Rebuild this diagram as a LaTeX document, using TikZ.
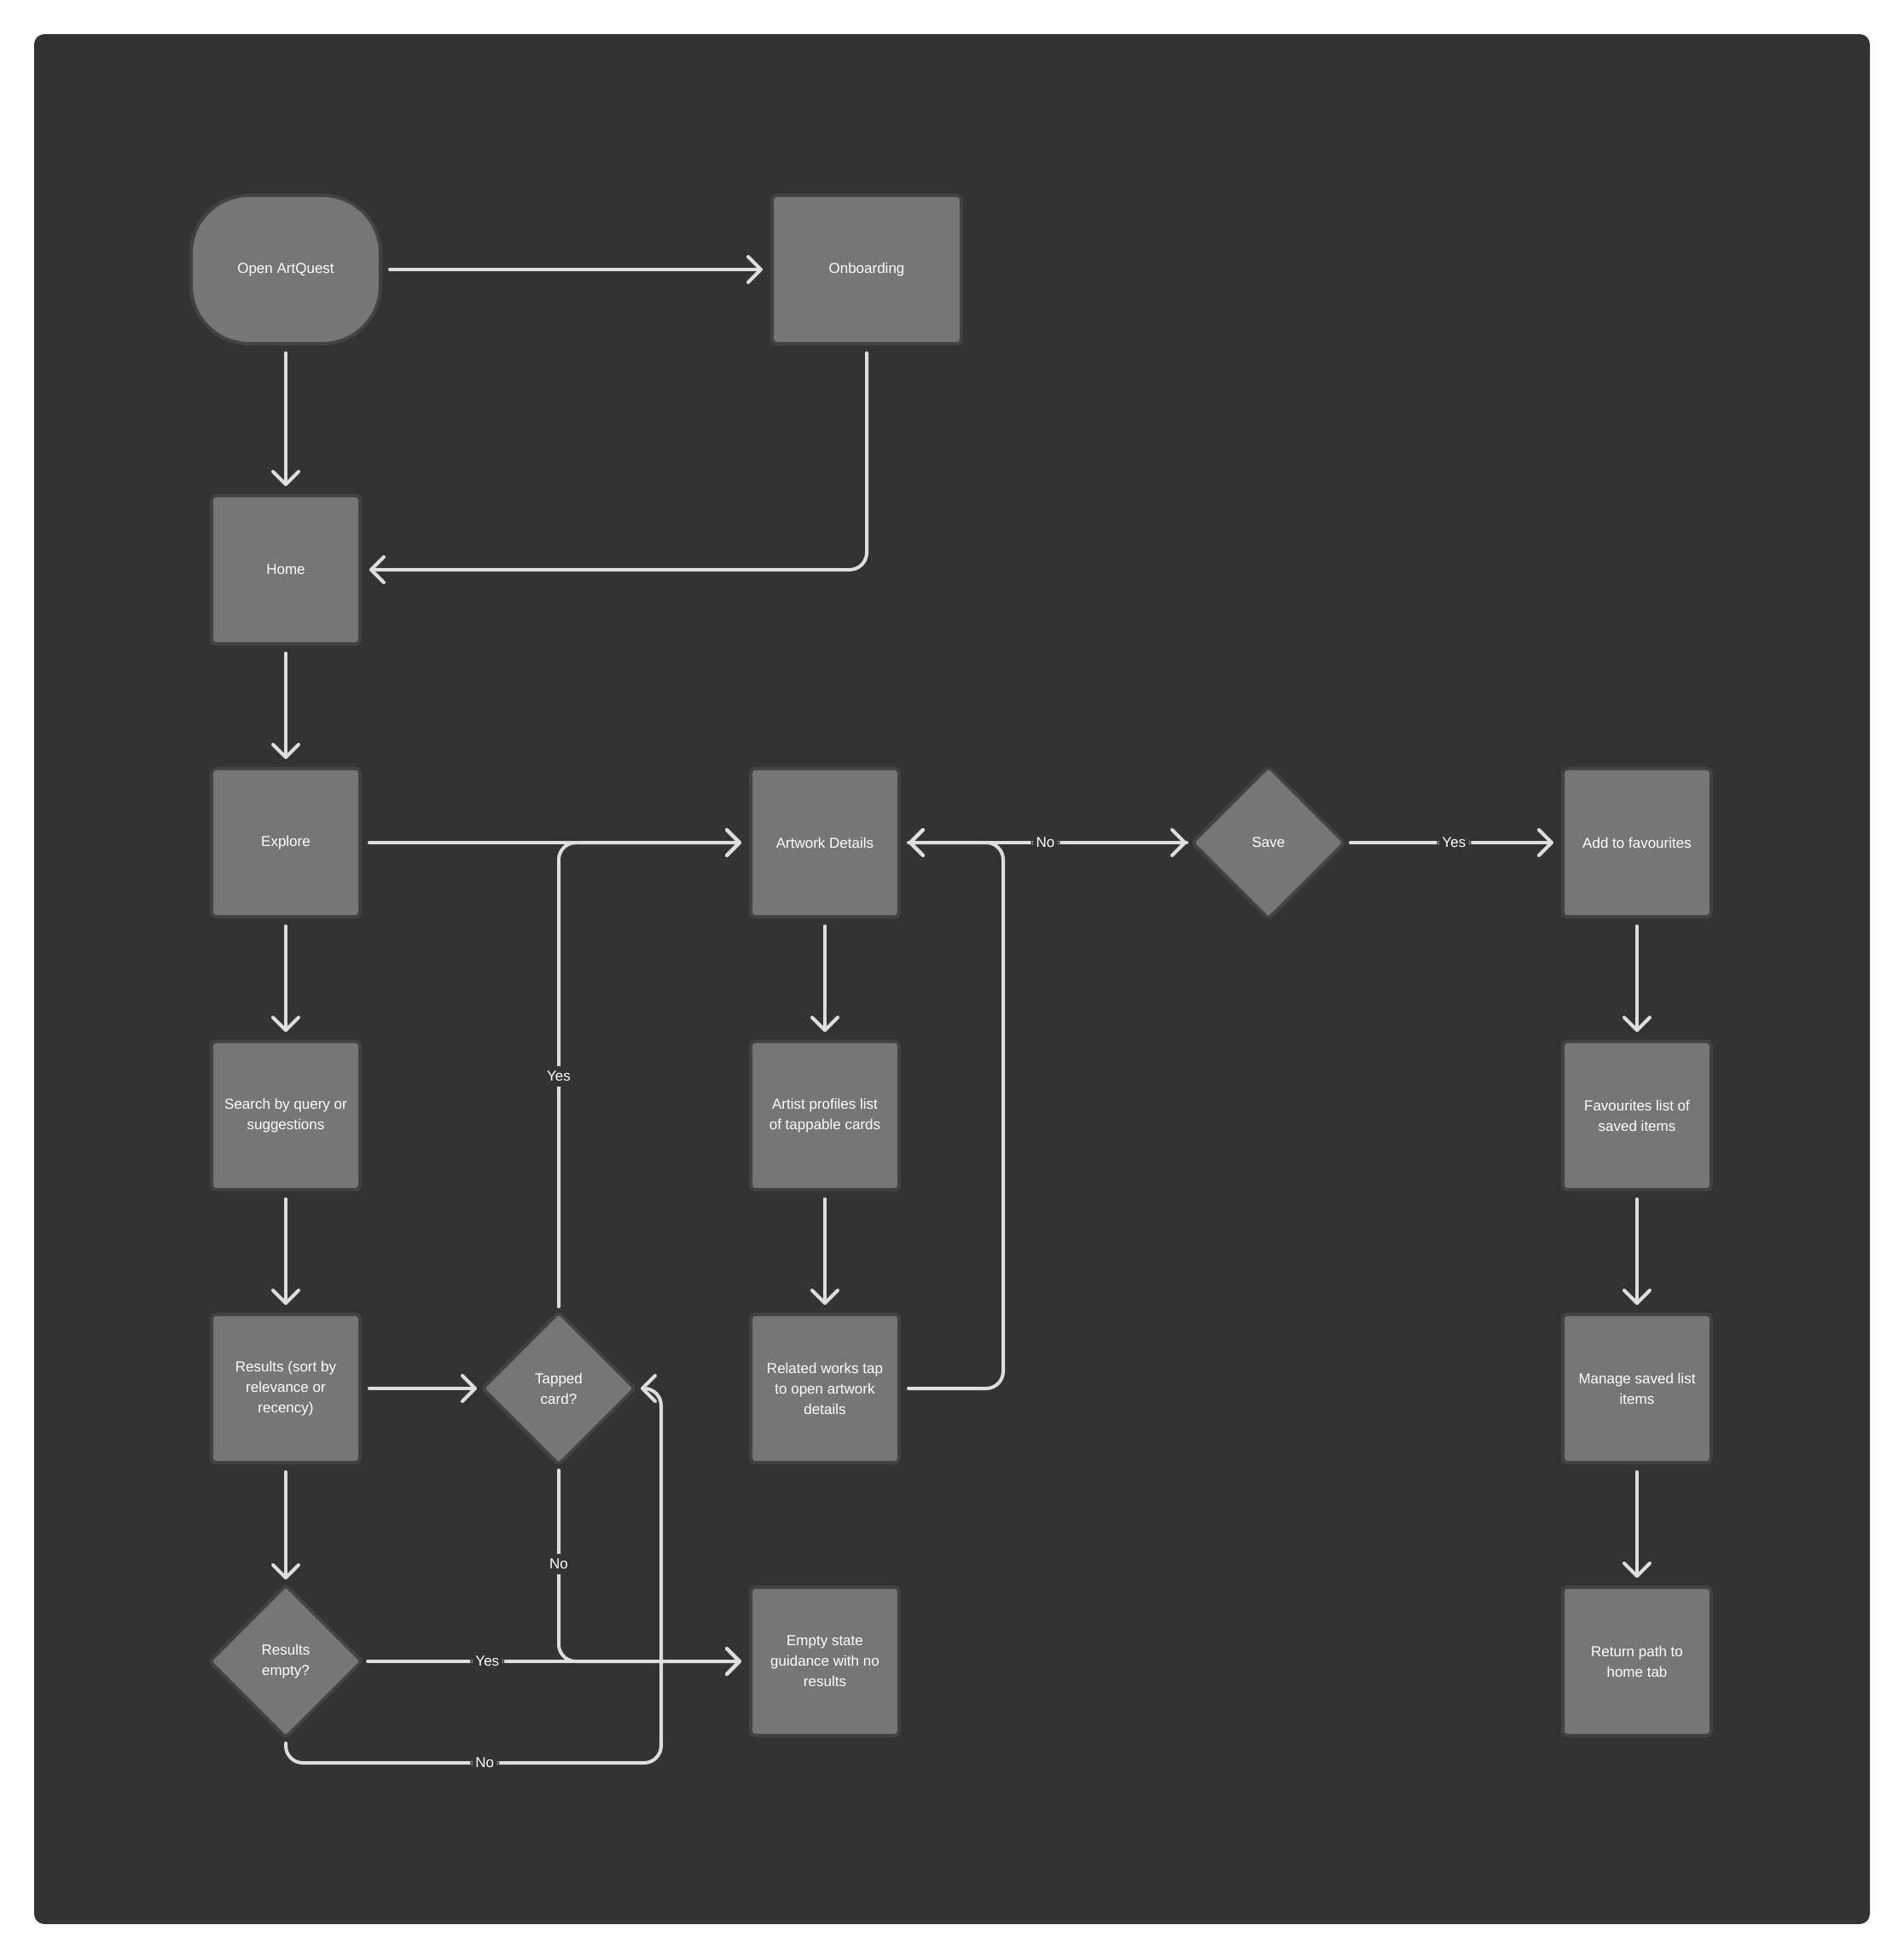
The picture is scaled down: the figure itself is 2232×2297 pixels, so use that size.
\documentclass[tikz,border=0pt]{standalone}
\usepackage{fontspec}
\setmainfont{Liberation Sans}
\usetikzlibrary{shapes.geometric,arrows.meta}
\definecolor{bgc}{HTML}{333333}
\definecolor{boxc}{HTML}{767676}
\definecolor{bordc}{HTML}{424242}
\definecolor{linec}{HTML}{DEDEDE}
\begin{document}
\begin{tikzpicture}[x=1pt,y=-1pt,
  txt/.style={text=white, font=\fontsize{17}{24}\selectfont},
  box/.style={txt, draw=bordc, line width=4pt, fill=boxc, rounded corners=5pt,
    minimum width=174pt, minimum height=174pt, inner sep=0pt, align=center},
  startbox/.style={box, minimum width=222pt, rounded corners=68pt},
  decide/.style={txt, diamond, aspect=1, draw=bordc, line width=4pt, fill=boxc,
    rounded corners=4pt, minimum width=180pt, minimum height=180pt, inner sep=0pt, align=center},
  arr/.style={draw=linec, line width=4pt, line cap=round, rounded corners=20pt,
    -{Straight Barb[length=15pt,width=30pt,round]}, shorten >=9pt, shorten <=9pt},
  dend/.style={shorten >=4pt},
  dstart/.style={shorten <=4pt},
  lbl/.style={txt, fill=bgc, inner sep=6pt}
]
\useasboundingbox[fill=white] (0,0) rectangle (2232,2297);
\fill[bgc, rounded corners=12pt] (40,40) rectangle (2192,2256);

% nodes
\node[startbox] (open) at (335,316) {Open ArtQuest};
\node[box, minimum width=222pt] (onb) at (1016,316) {Onboarding};
\node[box] (home) at (335,668) {Home};
\node[box] (explore) at (335,988) {Explore};
\node[box] (search) at (335,1308) {Search by query or\\suggestions};
\node[box] (results) at (335,1628) {Results (sort by\\relevance or\\recency)};
\node[decide] (rempty) at (335,1948) {Results\\empty?};
\node[decide] (tapped) at (655,1628) {Tapped\\card?};
\node[box] (artwork) at (967,988) {Artwork Details};
\node[box] (artist) at (967,1308) {Artist profiles list\\of tappable cards};
\node[box] (related) at (967,1628) {Related works tap\\to open artwork\\details};
\node[box] (empty) at (967,1948) {Empty state\\guidance with no\\results};
\node[decide] (save) at (1487,988) {Save};
\node[box] (add) at (1919,988) {Add to favourites};
\node[box] (favs) at (1919,1308) {Favourites list of\\saved items};
\node[box] (manage) at (1919,1628) {Manage saved list\\items};
\node[box] (ret) at (1919,1948) {Return path to\\home tab};

\coordinate (noloop) at (775,2067);
\coordinate (rloop) at (1176,1628);

% connectors
\draw[arr] (open) -- (onb);
\draw[arr] (open) -- (home);
\draw[arr] (onb.south) |- (home.east);
\draw[arr] (home) -- (explore);
\draw[arr] (explore) -- (search);
\draw[arr] (search) -- (results);
\draw[arr, dend] (results) -- (rempty);
\draw[arr] (explore) -- (artwork);
\draw[arr, dend] (results) -- (tapped);
\draw[arr, dstart] (tapped.north) |- node[lbl, pos=0.25] {Yes} (artwork.west);
\draw[arr, dstart] (tapped.south) |- node[lbl, pos=0.25] {No} (empty.west);
\draw[arr, dstart] (rempty) -- node[lbl, pos=0.32] {Yes} (empty);
\draw[arr, dstart, dend] (rempty.south) -- (rempty.south |- noloop) -- node[lbl, pos=0.53] {No} (noloop) |- (tapped.east);
\draw[arr] (artwork) -- (artist);
\draw[arr] (artist) -- (related);
\draw[arr] (related.east) -- (rloop) |- (artwork.east);
\draw[arr, dend] (artwork) -- (save);
\draw[arr, dstart] (save) -- node[lbl] {No} (artwork);
\draw[arr, dstart] (save) -- node[lbl] {Yes} (add);
\draw[arr] (add) -- (favs);
\draw[arr] (favs) -- (manage);
\draw[arr] (manage) -- (ret);
\end{tikzpicture}
\end{document}
